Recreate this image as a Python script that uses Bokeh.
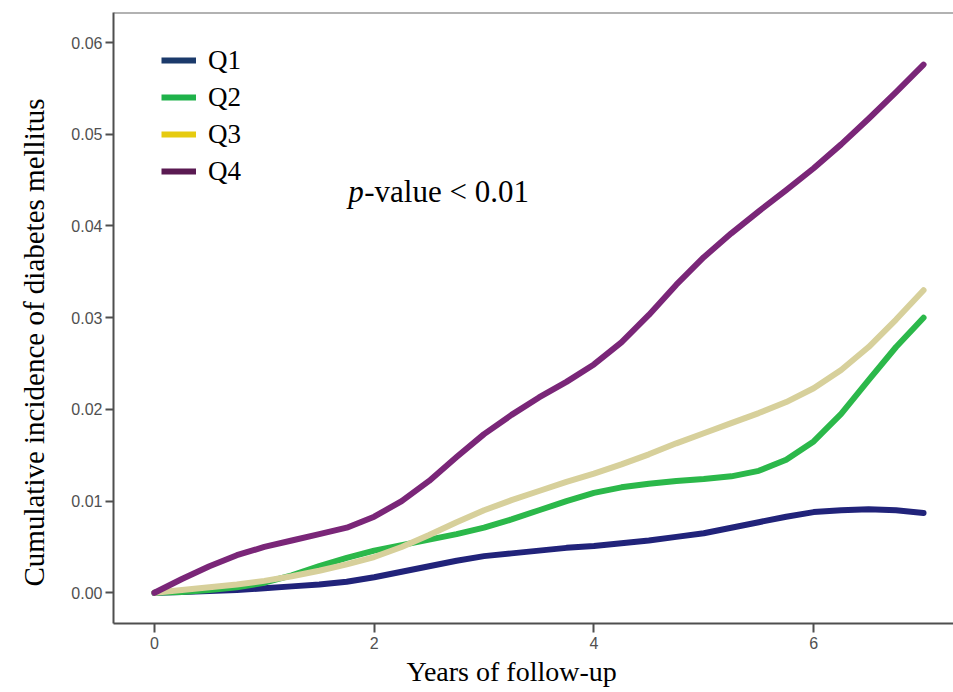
from bokeh.plotting import figure
from bokeh.models import Range1d, FixedTicker, PrintfTickFormatter, Label, Span, Legend, LegendItem, Title
from bokeh.embed import file_html
from bokeh.resources import INLINE

# ---- data ----
years = [0, 0.25, 0.5, 0.75, 1, 1.25, 1.5, 1.75, 2, 2.25, 2.5, 2.75, 3, 3.25, 3.5, 3.75,
         4, 4.25, 4.5, 4.75, 5, 5.25, 5.5, 5.75, 6, 6.25, 6.5, 6.75, 7]
q1 = [0, 0.0001, 0.0002, 0.0003, 0.0005, 0.0007, 0.0009, 0.0012, 0.0017, 0.0023, 0.0029, 0.0035,
      0.0040, 0.0043, 0.0046, 0.0049, 0.0051, 0.0054, 0.0057, 0.0061, 0.0065, 0.0071, 0.0077,
      0.0083, 0.0088, 0.0090, 0.0091, 0.0090, 0.0087]
q2 = [0, 0.0001, 0.0003, 0.0006, 0.0011, 0.0019, 0.0029, 0.0038, 0.0046, 0.0052, 0.0058, 0.0064,
      0.0071, 0.0080, 0.0090, 0.0100, 0.0109, 0.0115, 0.0119, 0.0122, 0.0124, 0.0127, 0.0133,
      0.0145, 0.0165, 0.0195, 0.0232, 0.0268, 0.0300]
q3 = [0, 0.0003, 0.0006, 0.0009, 0.0013, 0.0018, 0.0024, 0.0031, 0.0039, 0.0050, 0.0063, 0.0077,
      0.0090, 0.0101, 0.0111, 0.0121, 0.0130, 0.0140, 0.0151, 0.0163, 0.0174, 0.0185, 0.0196,
      0.0208, 0.0223, 0.0243, 0.0268, 0.0298, 0.0330]
q4 = [0, 0.0015, 0.0029, 0.0041, 0.0050, 0.0057, 0.0064, 0.0071, 0.0083, 0.0100, 0.0122, 0.0148,
      0.0173, 0.0194, 0.0213, 0.0230, 0.0249, 0.0273, 0.0303, 0.0336, 0.0366, 0.0392, 0.0416,
      0.0439, 0.0463, 0.0489, 0.0517, 0.0546, 0.0576]
series_names = ["Q1", "Q2", "Q3", "Q4"]
series_values = [q1, q2, q3, q4]
line_colors = ["#21237a", "#2bb84a", "#d7d09b", "#7a2678"]
legend_colors = ["#1b3a6b", "#1fb24a", "#e6cb10", "#5a1a52"]
x_ticks = [0, 2, 4, 6]
y_ticks = [0.00, 0.01, 0.02, 0.03, 0.04, 0.05, 0.06]
x_title = "Years of follow-up"
y_title = "Cumulative incidence of diabetes mellitus"
p_italic = "p"
p_rest = "-value < 0.01"

SERIF = "Liberation Serif"
SANS = "Liberation Sans"
Y_TOP = 0.063282

p = figure(width=953, height=692, output_backend="svg", toolbar_location=None,
           x_range=Range1d(-0.3727, 7.2727), y_range=Range1d(-0.003348, Y_TOP),
           min_border_left=112, min_border_right=0, min_border_top=12, min_border_bottom=69)
p.outline_line_color = None
p.grid.visible = False
p.background_fill_color = "white"
p.border_fill_color = "white"

# axes styling
p.xaxis.ticker = FixedTicker(ticks=x_ticks)
p.yaxis.ticker = FixedTicker(ticks=y_ticks)
p.yaxis.formatter = PrintfTickFormatter(format="%.2f")
p.axis.axis_line_color = "#4f4f4f"
p.axis.axis_line_width = 2
p.axis.major_tick_line_color = "#4f4f4f"
p.axis.major_tick_line_width = 2
p.axis.major_tick_in = 0
p.axis.minor_tick_line_color = None
p.axis.major_label_text_font = SANS
p.axis.major_label_text_font_size = "16px"
p.axis.major_label_text_color = "#505050"
p.yaxis.major_tick_out = 8
p.yaxis.major_label_standoff = 3
p.xaxis.major_tick_out = 9
p.xaxis.major_label_standoff = 4

# axis titles (as side titles so they can be offset like the reference)
p.add_layout(Title(text=x_title, align="left", offset=293, vertical_align="bottom", standoff=4,
                   text_font=SERIF, text_font_size="28px", text_font_style="normal",
                   text_color="black"), "below")
p.add_layout(Title(text=y_title, align="left", offset=37, vertical_align="top", standoff=34,
                   text_font=SERIF, text_font_size="29px", text_font_style="normal",
                   text_color="black"), "left")

# top frame line
p.add_layout(Span(location=Y_TOP, dimension="width", line_color="#666666", line_width=2))

# curves
for vals, col in zip(series_values, line_colors):
    p.line(years, vals, line_color=col, line_width=6, line_cap="round", line_join="round")

# legend (swatches in the legend's own colours)
items = []
for name, col in zip(series_names, legend_colors):
    r = p.line(x=[float("nan")], y=[float("nan")], line_color=col, line_width=6)
    items.append(LegendItem(label=name, renderers=[r]))
legend = Legend(items=items, location=(48, 436), orientation="vertical",
                border_line_color=None, background_fill_alpha=0, padding=0, margin=0,
                spacing=5, glyph_width=35, glyph_height=32, label_height=32, label_standoff=12,
                label_text_font=SERIF, label_text_font_size="27px", label_text_color="black")
p.add_layout(legend)

# p-value annotation
p.add_layout(Label(x=1.7636, y=0.04376, text=p_italic, text_font=SERIF, text_font_size="31px",
                   text_font_style="italic", text_color="black", text_baseline="alphabetic"))
p.add_layout(Label(x=1.7636, y=0.04376, x_offset=16, text=p_rest, text_font=SERIF,
                   text_font_size="31px", text_color="black", text_baseline="alphabetic"))

open("out.html", "w").write(file_html(p, INLINE))
